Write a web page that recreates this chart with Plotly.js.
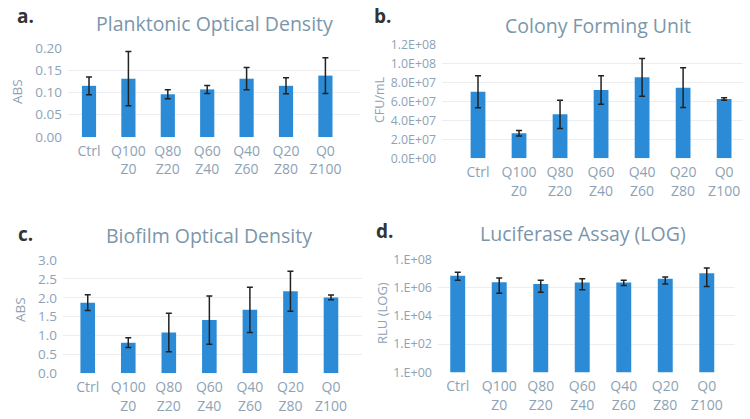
<!DOCTYPE html>
<html><head><meta charset="utf-8">
<script src="https://cdn.plot.ly/plotly-3.0.1.min.js"></script>
<style>html,body{margin:0;padding:0;background:#fff;}#chart{width:750px;height:419px;}</style>
</head><body><div id="chart"></div>
<script>
const categories = ["Ctrl","Q100<br>Z0","Q80<br>Z20","Q60<br>Z40","Q40<br>Z60","Q20<br>Z80","Q0<br>Z100"];

const planktonicOD = [0.115, 0.131, 0.096, 0.107, 0.131, 0.115, 0.138];
const planktonicErr = [0.020, 0.061, 0.010, 0.009, 0.025, 0.018, 0.040];

const cfu = [7.05e7, 2.65e7, 4.66e7, 7.23e7, 8.58e7, 7.48e7, 6.28e7];
const cfuErr = [1.7e7, 0.3e7, 1.5e7, 1.5e7, 2.0e7, 2.1e7, 0.12e7];

const biofilmOD = [1.87, 0.81, 1.08, 1.41, 1.68, 2.17, 2.01];
const biofilmErr = [0.21, 0.13, 0.51, 0.64, 0.60, 0.53, 0.06];

const luciferase = [6.8e6, 2.4e6, 1.8e6, 2.24e6, 2.24e6, 4.2e6, 1.05e7];
const lucErrPlus = [5.5e6, 2.3e6, 1.5e6, 1.9e6, 1.1e6, 1.3e6, 1.35e7];
const lucErrMinus = [3.45e6, 2.0e6, 1.33e6, 1.55e6, 0.86e6, 2.4e6, 9.3e6];

const cfuTicks = [0, 2e7, 4e7, 6e7, 8e7, 1e8, 1.2e8];
const cfuTickText = ["0.0E+00","2.0E+07","4.0E+07","6.0E+07","8.0E+07","1.0E+08","1.2E+08"];
const lucTicks = [1, 1e2, 1e4, 1e6, 1e8];
const lucTickText = ["1.E+00","1.E+02","1.E+04","1.E+06","1.E+08"];

const barColor = "#2b8bd6";
const errStyle = {color:"#222222", thickness:1.5, width:3};
const tickColor = "#8da2b5";
const titleColor = "#7b96aa";
const font = "Open Sans, Lato, sans-serif";

function bar(y, err, xa, ya, errMinus){
  const e = Object.assign({type:"data", array:err, visible:true}, errStyle);
  if (errMinus){ e.symmetric = false; e.arrayminus = errMinus; }
  return {type:"bar", x:categories, y:y, xaxis:xa, yaxis:ya, marker:{color:barColor}, error_y:e, hoverinfo:"skip"};
}

const data = [
  bar(planktonicOD, planktonicErr, "x", "y"),
  bar(cfu, cfuErr, "x2", "y2"),
  bar(biofilmOD, biofilmErr, "x3", "y3"),
  bar(luciferase, lucErrPlus, "x4", "y4", lucErrMinus)
];

function xax(dom, anchor, rng){
  return {domain:dom, anchor:anchor, range:rng, showline:false, zeroline:false, showgrid:false, ticks:"",
    ticklabelstandoff:4,
    tickfont:{family:font, size:14, color:tickColor}, fixedrange:true};
}
function yax(dom, anchor, extra, fs){
  return Object.assign({domain:dom, anchor:anchor, showline:false, zeroline:false, showgrid:true, gridcolor:"#eceef1",
    ticks:"", ticklabelstandoff:5, tickfont:{family:font, size:fs||13.5, color:tickColor}, fixedrange:true}, extra);
}

const ann = [];
function txt(x, y, t, size, color, bold, angle){
  ann.push({xref:"paper", yref:"paper", x:x/750, y:1-y/419, xanchor:"center", yanchor:"middle",
    text: bold ? "<b>"+t+"</b>" : t, showarrow:false, textangle:angle||0,
    font:{family:font, size:size, color:color}});
}
txt(214, 24, "Planktonic Optical Density", 19.5, titleColor);
txt(598, 25, "Colony Forming Unit", 19.5, titleColor);
txt(209, 235, "Biofilm Optical Density", 19.5, titleColor);
txt(583, 233, "Luciferase Assay (LOG)", 19.5, titleColor);
txt(25, 16, "a.", 19, "#333333", true);
txt(382, 16, "b.", 19, "#333333", true);
txt(25, 234, "c.", 19, "#333333", true);
txt(384, 231, "d.", 19, "#333333", true);
txt(17, 92, "ABS", 13.5, tickColor, false, -90);
txt(380, 100, "CFU/mL", 12.5, tickColor, false, -90);
txt(20, 310, "ABS", 13.5, tickColor, false, -90);
txt(382, 313, "RLU (LOG)", 13, tickColor, false, -90);

const layout = {
  width:750, height:419, margin:{l:0,r:0,t:0,b:0}, paper_bgcolor:"#ffffff", plot_bgcolor:"rgba(0,0,0,0)",
  showlegend:false, bargap:0.64, font:{family:font},
  xaxis: xax([68/750, 360/750], "y", [-0.533, 6.878]),
  yaxis: yax([1-137/419, 1-48/419], "x", {range:[0,0.2], tickvals:[0,0.05,0.1,0.15,0.2], tickformat:".2f"}),
  xaxis2: xax([442/750, 743/750], "y2", [-0.878, 6.46]),
  yaxis2: yax([1-158.3/419, 1-45/419], "x2", {range:[0,1.2e8], tickvals:cfuTicks, ticktext:cfuTickText}, 12.3),
  xaxis3: xax([63/750, 362/750], "y3", [-0.61, 6.765]),
  yaxis3: yax([1-373.3/419, 1-260/419], "x3", {range:[0,3], tickvals:[0,0.5,1,1.5,2,2.5,3], tickformat:".1f"}),
  xaxis4: xax([438/750, 735/750], "y4", [-0.475, 6.68]),
  yaxis4: yax([1-372.3/419, 1-259.3/419], "x4", {type:"log", range:[0,8], tickvals:lucTicks, ticktext:lucTickText}, 12.5),
  annotations: ann
};

Plotly.newPlot("chart", data, layout, {displayModeBar:false, staticPlot:true});
</script>
</body></html>
